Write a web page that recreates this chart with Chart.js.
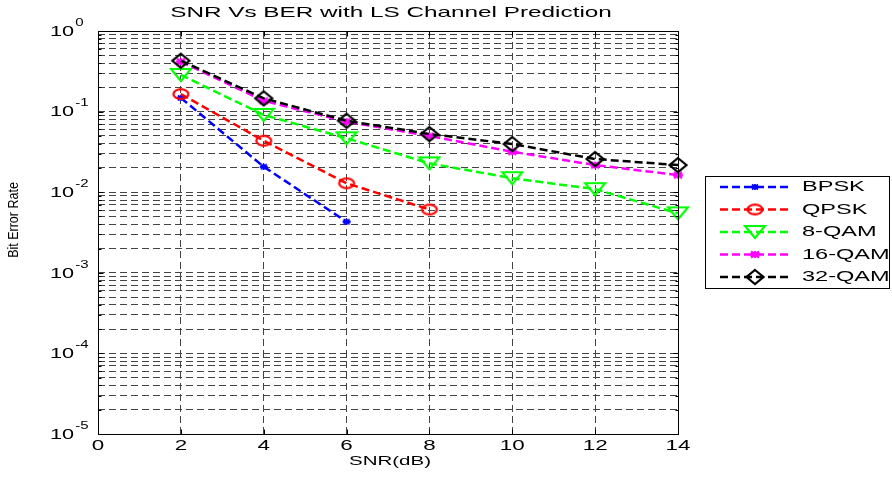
<!DOCTYPE html>
<html>
<head>
<meta charset="utf-8">
<script src="https://cdn.jsdelivr.net/npm/chart.js@4/dist/chart.umd.min.js"></script>
<style>
  html, body { margin: 0; padding: 0; background: #fff; }
</style>
</head>
<body>
<canvas id="berChart" width="892" height="479"></canvas>
<script>
// data
const snr = [2, 4, 6, 8, 10, 12, 14];
const bpsk = [0.148, 0.0207, 0.0043];
const qpsk = [0.165, 0.0435, 0.0129, 0.0061];
const qam8 = [0.285, 0.091, 0.0467, 0.0228, 0.0149, 0.0109, 0.00547];
const qam16 = [0.416, 0.136, 0.075, 0.0498, 0.0318, 0.0217, 0.0163];
const qam32 = [0.428, 0.146, 0.077, 0.0527, 0.0396, 0.0258, 0.0217];
const xTicks = [0, 2, 4, 6, 8, 10, 12, 14];
const yDecades = [-5, -4, -3, -2, -1, 0];
const names = ["BPSK", "QPSK", "8-QAM", "16-QAM", "32-QAM"];

const FONT = '"Liberation Sans", Arial, sans-serif';

// grid at every 1..9 x 10^k
const yGrid = [];
yDecades.forEach(d => {
  if (d === 0) { yGrid.push(1); return; }
  for (let m = 1; m <= 9; m++) yGrid.push(Number((m * Math.pow(10, d)).toPrecision(3)));
});

// 🔹 markers (matlab ones come out wide, so draw them on small canvases)
function marker(w, h, color, lw, draw) {
  const c = document.createElement("canvas");
  c.width = w; c.height = h;
  const g = c.getContext("2d");
  g.strokeStyle = color;
  g.lineWidth = lw;
  g.beginPath();
  draw(g);
  g.stroke();
  return c;
}

function star(g, w, h) {
  g.moveTo(1, h / 2); g.lineTo(w - 1, h / 2);
  g.moveTo(w / 2, 1); g.lineTo(w / 2, h - 1);
  g.moveTo(2, 1.5); g.lineTo(w - 2, h - 1.5);
  g.moveTo(2, h - 1.5); g.lineTo(w - 2, 1.5);
}

const mkBpsk = marker(10, 8, "#0000ff", 1.8, g => star(g, 10, 8));
const mkQpsk = marker(20, 14, "#ff0000", 2.2, g => g.ellipse(10, 7, 7.5, 4.8, 0, 0, Math.PI * 2));
const mk8 = marker(24, 16, "#00ff00", 2.2, g => { g.moveTo(2, 2); g.lineTo(22, 2); g.lineTo(12, 14); g.closePath(); });
const mk16 = marker(12, 9, "#ff00ff", 2.2, g => star(g, 12, 9));
const mk32 = marker(22, 18, "#000000", 2.2, g => { g.moveTo(11, 2); g.lineTo(19.5, 9); g.lineTo(11, 16); g.lineTo(2.5, 9); g.closePath(); });

function series(label, vals, color, style, order) {
  return {
    label: label,
    data: vals.map((v, i) => ({ x: snr[i], y: v })),
    borderColor: color,
    backgroundColor: color,
    borderWidth: 2.5,
    borderDash: [8, 4],
    pointStyle: style,
    pointRadius: 7,
    pointHoverRadius: 7,
    tension: 0,
    fill: false,
    clip: false,
    order: order
  };
}

function wideText(ctx, str, x, y, size, sx, align) {
  ctx.save();
  ctx.font = size + "px " + FONT;
  ctx.textBaseline = "middle";
  ctx.textAlign = "left";
  const w = ctx.measureText(str).width * sx;
  let left = x;
  if (align === "center") left = x - w / 2;
  else if (align === "right") left = x - w;
  ctx.translate(left, y);
  ctx.scale(sx, 1);
  ctx.fillStyle = "#000";
  ctx.fillText(str, 0, 0);
  ctx.restore();
  return w;
}

// 🔹 text, box, inner ticks and legend
const decor = {
  id: "decor",
  afterDatasetsDraw(chart) {
    const ctx = chart.ctx;
    const xs = chart.scales.x, ys = chart.scales.y;
    const L = 98.5, R = 678.5, T = 31.5, B = 434.5;

    ctx.save();
    ctx.strokeStyle = "#000";
    ctx.lineWidth = 1;
    ctx.setLineDash([]);
    ctx.beginPath();
    xTicks.forEach(v => {
      const px = Math.round(xs.getPixelForValue(v)) + 0.5;
      ctx.moveTo(px, B); ctx.lineTo(px, B - 5);
      ctx.moveTo(px, T); ctx.lineTo(px, T + 5);
    });
    yGrid.forEach(v => {
      const py = Math.round(ys.getPixelForValue(v)) + 0.5;
      const len = Math.abs(Math.log10(v) - Math.round(Math.log10(v))) < 1e-6 ? 5 : 3;
      ctx.moveTo(L, py); ctx.lineTo(L + len, py);
      ctx.moveTo(R, py); ctx.lineTo(R - len, py);
    });
    ctx.stroke();
    ctx.strokeRect(L, T, R - L, B - T);
    ctx.restore();

    // tick labels
    xTicks.forEach(v => wideText(ctx, String(v), xs.getPixelForValue(v), 446, 14, 1.6, "center"));
    yDecades.forEach(d => {
      const py = ys.getPixelForValue(Math.pow(10, d));
      const w = wideText(ctx, "10", 50, py + 1, 14, 1.55, "left");
      wideText(ctx, String(d), 50 + w + 1, py - 8, 10, 1.5, "left");
    });

    // titles
    wideText(ctx, "SNR Vs BER with LS Channel Prediction", 391, 13, 15, 1.62, "center");
    wideText(ctx, "SNR(dB)", 390, 461, 13.5, 1.52, "center");
    ctx.save();
    ctx.translate(14, 220);
    ctx.rotate(-Math.PI / 2);
    ctx.scale(1, 1.1);
    ctx.font = "12.5px " + FONT;
    ctx.textAlign = "center";
    ctx.textBaseline = "middle";
    ctx.fillStyle = "#000";
    ctx.fillText("Bit Error Rate", 0, 0);
    ctx.restore();

    // legend
    ctx.save();
    ctx.fillStyle = "#fff";
    ctx.fillRect(705.5, 176.5, 184, 112);
    ctx.strokeStyle = "#000";
    ctx.lineWidth = 1;
    ctx.strokeRect(705.5, 176.5, 184, 112);
    chart.data.datasets.forEach((ds, i) => {
      const y = 187 + i * 22.5;
      ctx.strokeStyle = ds.borderColor;
      ctx.lineWidth = 2.5;
      ctx.setLineDash([8, 4]);
      ctx.beginPath();
      ctx.moveTo(720, y); ctx.lineTo(791, y);
      ctx.stroke();
      ctx.setLineDash([]);
      const m = ds.pointStyle;
      ctx.drawImage(m, 755 - m.width / 2, y - m.height / 2);
      wideText(ctx, ds.label, 802, y, 15, 1.57, "left");
    });
    ctx.restore();
  }
};

new Chart(document.getElementById("berChart"), {
  type: "line",
  data: {
    datasets: [
      series(names[0], bpsk, "#0000ff", mkBpsk, 4),
      series(names[1], qpsk, "#ff0000", mkQpsk, 3),
      series(names[2], qam8, "#00ff00", mk8, 2),
      series(names[3], qam16, "#ff00ff", mk16, 1),
      series(names[4], qam32, "#000000", mk32, 0)
    ]
  },
  options: {
    responsive: false,
    animation: false,
    layout: { padding: { left: 0, right: 214, top: 31, bottom: 0 } },
    plugins: {
      legend: { display: false },
      title: { display: false },
      tooltip: { enabled: false }
    },
    scales: {
      x: {
        type: "linear",
        min: 0,
        max: 14,
        afterBuildTicks: s => { s.ticks = xTicks.map(v => ({ value: v })); },
        afterFit: s => { s.height = 45; },
        ticks: { display: false },
        grid: { color: "#444", lineWidth: 1, drawTicks: false },
        border: { display: false, dash: [7, 4] }
      },
      y: {
        type: "logarithmic",
        min: 1e-5,
        max: 1,
        afterBuildTicks: s => { s.ticks = yGrid.map(v => ({ value: v })); },
        afterFit: s => { s.width = 98; },
        ticks: { display: false, autoSkip: false },
        grid: { color: "#444", lineWidth: 1, drawTicks: false },
        border: { display: false, dash: [7, 4] }
      }
    }
  },
  plugins: [decor]
});
</script>
</body>
</html>
